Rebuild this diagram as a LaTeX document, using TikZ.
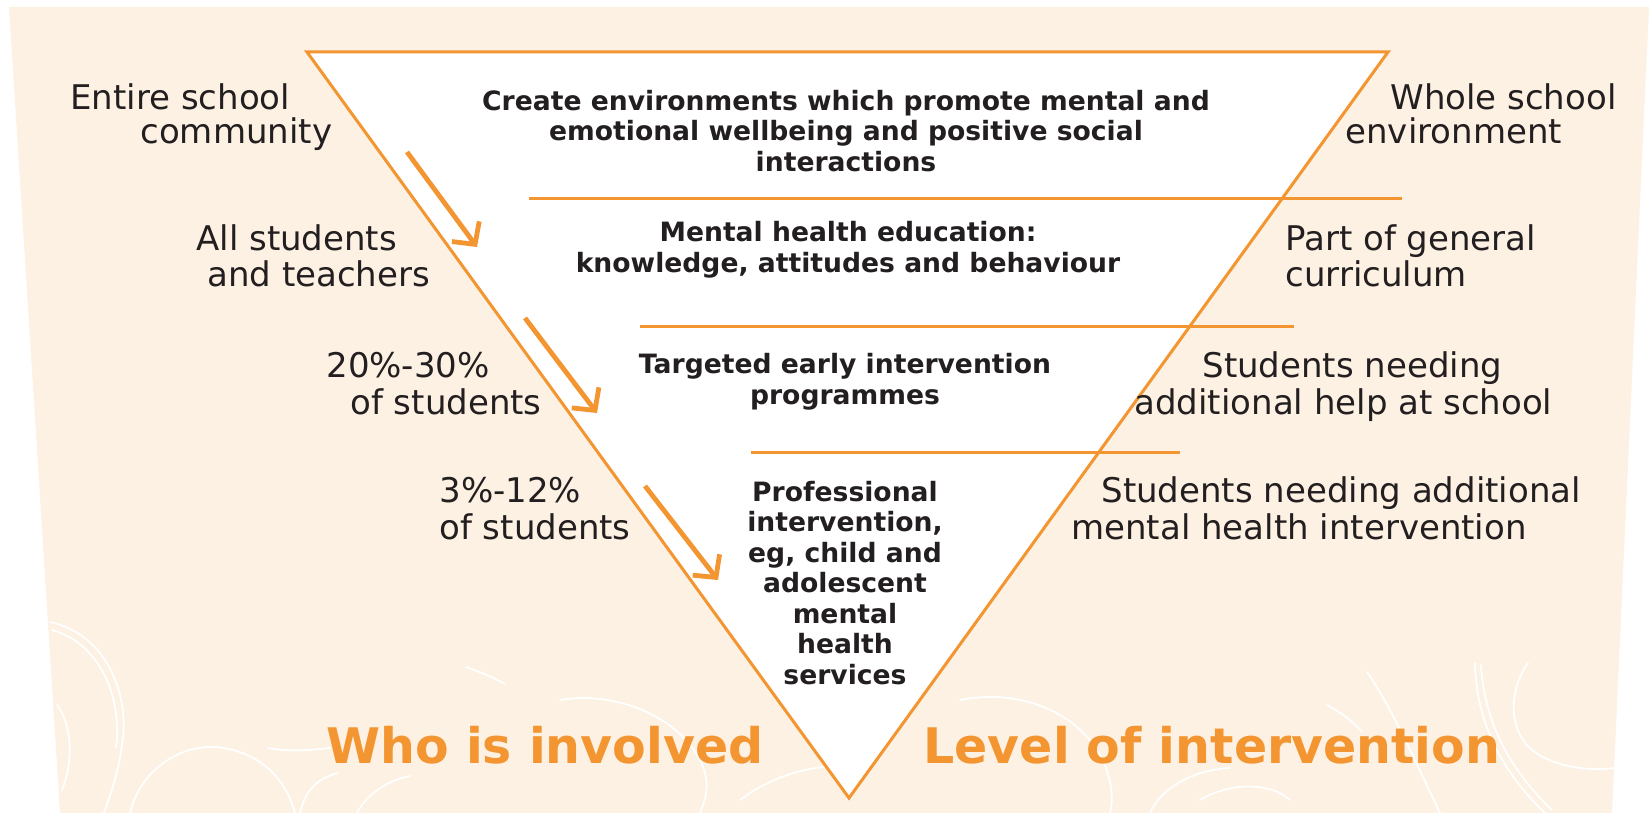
\documentclass[tikz,border=0pt]{standalone}
\usepackage{fontspec}
\setmainfont{DejaVu Sans}
\usetikzlibrary{arrows.meta}
\definecolor{cream}{RGB}{253,241,227}
\definecolor{pyrorange}{RGB}{243,149,49}
\definecolor{ink}{RGB}{35,31,32}

\begin{document}
\begin{tikzpicture}[x=0.5pt,y=-0.5pt,
  sidelabel/.style={anchor=base west, inner sep=0pt, text=ink, font=\fontsize{17}{18}\selectfont},
  tiertext/.style={align=center, inner sep=0pt, text=ink, font=\bfseries\fontsize{13.3}{15.25}\selectfont},
  headline/.style={anchor=base west, inner sep=0pt, text=pyrorange, font=\bfseries\fontsize{24.5}{26}\selectfont},
  tierline/.style={draw=pyrorange, line width=1.5pt},
  flowarrow/.style={draw=pyrorange, line width=2.4pt, -{Straight Barb[length=8pt,width=17pt,line width=2.4pt]}},
  swirl/.style={draw=white, line width=0.9pt, line cap=round}]

\useasboundingbox (0,0) rectangle (1649,813);
\fill[white] (0,0) rectangle (1649,813);
% cream backdrop panel
\fill[cream] (9,7) -- (1649,7) -- (1612,813) -- (60,813) -- cycle;

% decorative white swirls along the bottom
\begin{scope}
  \clip (9,7) -- (1649,7) -- (1612,813) -- (60,813) -- cycle;
  \draw[swirl] (50,622) .. controls (110,635) and (130,700) .. (122,745) .. controls (118,775) and (110,795) .. (104,813);
  \draw[swirl] (52,630) .. controls (105,645) and (122,705) .. (116,748);
  \draw[swirl] (57,705) .. controls (72,725) and (74,760) .. (62,790);
  \draw[swirl] (130,813) .. controls (140,770) and (180,745) .. (215,747) .. controls (255,750) and (285,775) .. (295,813);
  \draw[swirl] (268,748) .. controls (290,752) and (310,750) .. (330,748);
  \draw[swirl] (300,813) .. controls (305,790) and (318,778) .. (338,773);
  \draw[swirl] (357,813) .. controls (368,792) and (390,780) .. (410,776);
  \draw[swirl] (466,667) .. controls (480,672) and (495,678) .. (505,684);
  \draw[swirl] (560,700) .. controls (620,690) and (680,720) .. (700,760) .. controls (712,785) and (705,800) .. (700,813);
  \draw[swirl] (740,800) .. controls (780,770) and (830,760) .. (870,770);
  \draw[swirl] (960,700) .. controls (1010,690) and (1060,705) .. (1090,740) .. controls (1110,765) and (1115,795) .. (1110,813);
  \draw[swirl] (1150,813) .. controls (1160,790) and (1190,770) .. (1230,768);
  \draw[swirl] (1200,800) .. controls (1230,782) and (1270,782) .. (1290,800);
  \draw[swirl] (1327,705) .. controls (1340,712) and (1352,720) .. (1362,732);
  \draw[swirl] (1367,672) .. controls (1390,705) and (1410,750) .. (1440,813);
  \draw[swirl] (1475,663) .. controls (1476,720) and (1500,770) .. (1545,813);
  \draw[swirl] (1481,665) .. controls (1484,720) and (1508,768) .. (1552,810);
  \draw[swirl] (1528,663) .. controls (1508,690) and (1505,740) .. (1545,758) .. controls (1570,770) and (1595,770) .. (1615,768);
\end{scope}

% inverted triangle
\coordinate (tl) at (307,52);
\coordinate (tr) at (1388,52);
\coordinate (apex) at (849,798);
\draw[tierline, fill=white, line join=miter] (tl) -- (tr) -- (apex) -- cycle;

% tier separators
\coordinate (s1a) at (529,198);  \coordinate (s1b) at (1402,198);
\coordinate (s2a) at (640,326);  \coordinate (s2b) at (1294,326);
\coordinate (s3a) at (751,452);  \coordinate (s3b) at (1180,452);
\draw[tierline] (s1a) -- (s1b);
\draw[tierline] (s2a) -- (s2b);
\draw[tierline] (s3a) -- (s3b);

% flow arrows along the left side
\coordinate (a1s) at (407,152);  \coordinate (a1e) at (477,247);
\coordinate (a2s) at (525,318);  \coordinate (a2e) at (597,413);
\coordinate (a3s) at (645,486);  \coordinate (a3e) at (718,580);
\draw[flowarrow] (a1s) -- (a1e);
\draw[flowarrow] (a2s) -- (a2e);
\draw[flowarrow] (a3s) -- (a3e);

% tier contents
\node[tiertext] (tier1) at (846,131) {Create environments which promote mental and\\emotional wellbeing and positive social\\interactions};
\node[tiertext] (tier2) at (848,250) {Mental health education:\\knowledge, attitudes and behaviour};
\node[tiertext] (tier3) at (845,382) {Targeted early intervention\\programmes};
\node[tiertext] (tier4) at (845,583) {Professional\\intervention,\\eg, child and\\adolescent\\mental\\health\\services};

% who is involved
\node[sidelabel] (who1a) at (70,110) {Entire school};
\node[sidelabel] (who1b) at (140,143) {community};
\node[sidelabel] (who2a) at (196,250) {All students};
\node[sidelabel] (who2b) at (207,286) {and teachers};
\node[sidelabel] (who3a) at (326,377) {20\%-30\%};
\node[sidelabel] (who3b) at (350,414) {of students};
\node[sidelabel] (who4a) at (439,502) {3\%-12\%};
\node[sidelabel] (who4b) at (439,539) {of students};

% level of intervention
\node[sidelabel] (lvl1a) at (1390,110) {Whole school};
\node[sidelabel] (lvl1b) at (1345,143) {environment};
\node[sidelabel] (lvl2a) at (1285,250) {Part of general};
\node[sidelabel] (lvl2b) at (1285,286) {curriculum};
\node[sidelabel] (lvl3a) at (1202,377) {Students needing};
\node[sidelabel] (lvl3b) at (1134,414) {additional help at school};
\node[sidelabel] (lvl4a) at (1101,502) {Students needing additional};
\node[sidelabel] (lvl4b) at (1071,539) {mental health intervention};

% headings
\node[headline] (whohead) at (326,763) {Who is involved};
\node[headline] (lvlhead) at (923,763) {Level of intervention};
\end{tikzpicture}
\end{document}
